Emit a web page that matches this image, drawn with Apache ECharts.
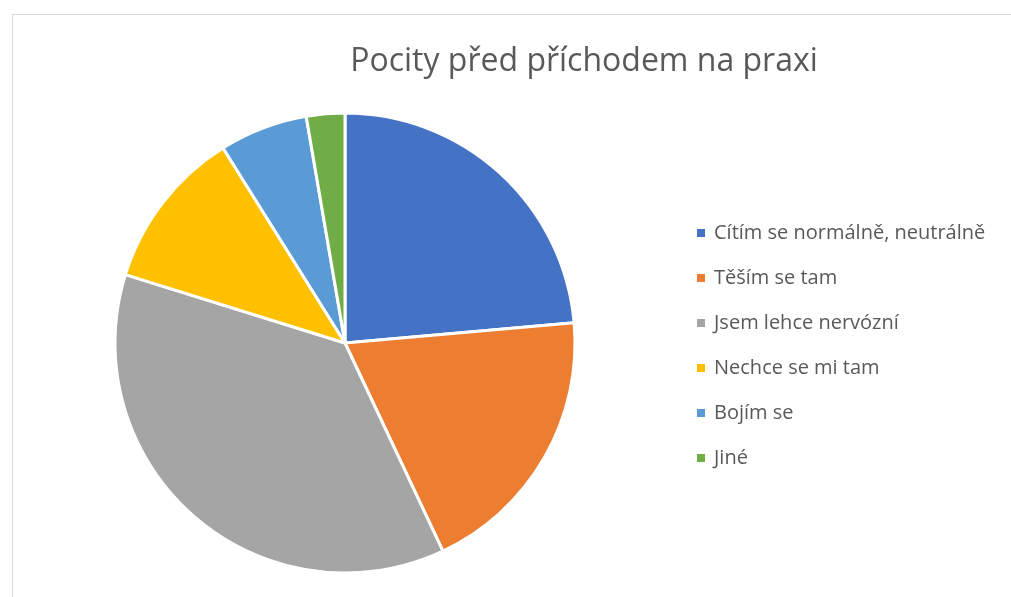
<!DOCTYPE html>
<html>
<head>
    <meta charset="utf-8">
    <script src="https://cdn.jsdelivr.net/npm/echarts@6/dist/echarts.min.js"></script>
    <style>
        body { margin: 0; background: #fff; }
        #frame { position: absolute; left: 12px; top: 14px; width: 1100px; height: 700px; border: 1px solid #d9d9d9; }
        #main { position: absolute; left: 0; top: 0; width: 1011px; height: 597px; }
    </style>
</head>
<body>
    <div id="frame"></div>
    <div id="main"></div>
    <script type="text/javascript">
        // kategorie a hodnoty (v %)
        var categories = ['Cítím se normálně, neutrálně', 'Těším se tam', 'Jsem lehce nervózní', 'Nechce se mi tam', 'Bojím se', 'Jiné'];
        var values = [23.6, 19.4, 36.8, 11.3, 6.2, 2.7];
        var colors = ['#4472C4', '#ED7D31', '#A5A5A5', '#FFC000', '#5B9BD5', '#70AD47'];

        var pieData = categories.map(function (name, i) {
            return { name: name, value: values[i] };
        });

        var option = {
            color: colors,
            animation: false,
            title: {
                text: 'Pocity před příchodem na praxi',
                left: 579,
                textAlign: 'center',
                top: 41,
                textStyle: {
                    fontFamily: 'Open Sans',
                    fontSize: 32,
                    fontWeight: 'normal',
                    color: '#595959'
                }
            },
            legend: {
                orient: 'vertical',
                left: 695,
                top: 223,
                padding: 0,
                icon: 'rect',
                itemWidth: 10,
                itemHeight: 10,
                itemGap: 25,
                data: categories,
                textStyle: {
                    fontFamily: 'Open Sans',
                    fontSize: 20,
                    lineHeight: 20,
                    color: '#595959',
                    padding: [0, 0, 0, 3]
                }
            },
            series: [
                {
                    type: 'pie',
                    center: [345, 343],
                    radius: 230,
                    startAngle: 90,
                    clockwise: true,
                    label: { show: false },
                    labelLine: { show: false },
                    emphasis: { disabled: true },
                    itemStyle: {
                        borderColor: '#ffffff',
                        borderWidth: 3
                    },
                    data: pieData
                }
            ]
        };

        var myChart = echarts.init(document.getElementById('main'));
        myChart.setOption(option);
    </script>
</body>
</html>
